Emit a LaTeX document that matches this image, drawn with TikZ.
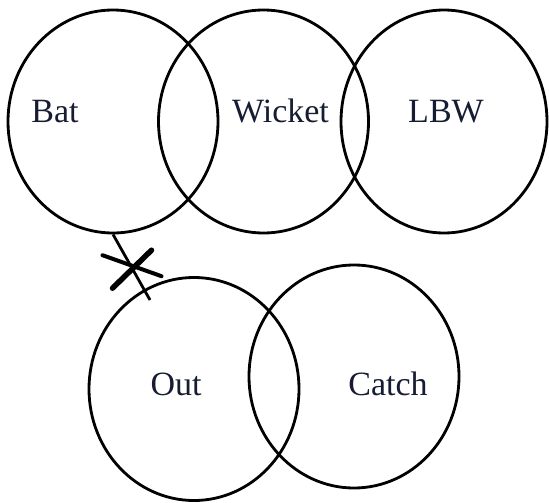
\documentclass[tikz,border=0pt]{standalone}
\usepackage{fontspec}
\setmainfont{Liberation Serif}
\usepackage{xcolor}
\usetikzlibrary{shapes.geometric,calc}
\definecolor{labelblue}{RGB}{22,28,50}

\begin{document}
\begin{tikzpicture}[
  x=1pt, y=-1pt,
  venn/.style={draw, ellipse, line width=2.8pt, minimum width=210pt, minimum height=223pt, inner sep=0pt},
  lbl/.style={anchor=base, inner sep=0pt, text=labelblue, font=\fontsize{34}{40}\selectfont},
  link/.style={line width=2.8pt},
  cutmark/.style={line cap=round}
]
\useasboundingbox (0,0) rectangle (549,503);

\node[venn] (bat) at (113,121.5) {};
\node[venn] (wicket) at (263.5,121.5) {};
\node[venn, minimum width=206pt] (lbw) at (444,121.5) {};
\node[venn] (out) at (194,389) {};
\node[venn] (catch) at (354,376.5) {};

\node[lbl] (batlbl) at (55,122) {Bat};
\node[lbl] (wicketlbl) at (280.5,122) {Wicket};
\node[lbl] (lbwlbl) at (446,122) {LBW};
\node[lbl] (outlbl) at (176,395) {Out};
\node[lbl] (catchlbl) at (388,395) {Catch};

% crossed-out link from Bat to Out
\coordinate (xend) at (150,300);
\draw[link] (bat.south) -- coordinate[pos=0.5] (cross) (xend);
\draw[cutmark, line width=5.5pt] ($(cross)+(20,-17)$) -- ($(cross)+(-19,21)$);
\draw[cutmark, line width=4pt] ($(cross)+(-29,-12)$) -- ($(cross)+(30,9)$);
\end{tikzpicture}
\end{document}
